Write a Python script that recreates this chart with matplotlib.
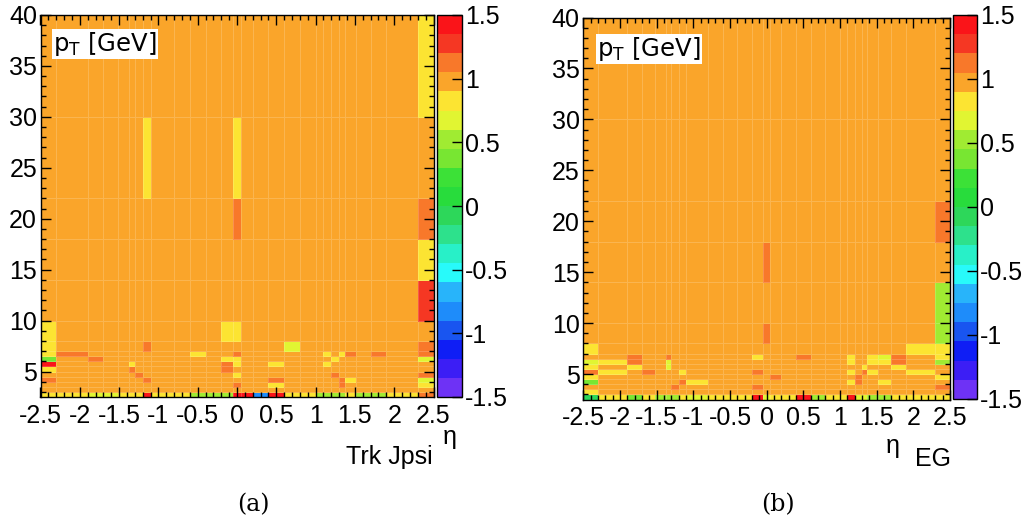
import numpy as np
import matplotlib
matplotlib.use('Agg')
import matplotlib.pyplot as plt
from matplotlib.colors import ListedColormap, BoundaryNorm
from matplotlib.ticker import MultipleLocator, FormatStrFormatter

plt.rcParams['font.family'] = ['Liberation Sans', 'DejaVu Sans']
plt.rcParams['axes.unicode_minus'] = False

# ---------------- data ----------------
eta_edges = [-2.5, -2.3, -1.9, -1.7, -1.52, -1.37, -1.3, -1.2, -1.1, -0.8, -0.6,
             -0.4, -0.2, -0.05, 0.05, 0.2, 0.4, 0.6, 0.8, 1.0, 1.1, 1.2, 1.3,
             1.37, 1.52, 1.7, 1.9, 2.3, 2.5]
pt_edges = [2.5, 3, 3.5, 4, 4.5, 5, 5.5, 6, 6.5, 7, 8, 10, 14, 18, 22, 30, 40]

base_a = 0.97
base_b = 0.97

# (pT bin low edge, eta low, eta high, value)
cells_a = [
    (30, 2.3, 2.5, 0.82),
    (22, -1.2, -1.1, 0.82), (22, -0.05, 0.05, 0.82),
    (18, -0.05, 0.05, 1.12), (18, 2.3, 2.5, 1.12),
    (14, 2.3, 2.5, 0.82),
    (10, 2.3, 2.5, 1.28),
    (8, -2.5, -2.3, 0.82), (8, -0.2, 0.05, 0.82),
    (7, -2.5, -2.3, 0.82), (7, -1.2, -1.1, 1.12), (7, 0.6, 0.8, 0.68), (7, 2.3, 2.5, 1.12),
    (6.5, -2.5, -2.3, 0.82), (6.5, -2.3, -1.9, 1.12), (6.5, -0.6, -0.4, 0.82),
    (6.5, -0.05, 0.05, 1.12), (6.5, 1.1, 1.2, 0.82), (6.5, 1.3, 1.37, 0.82),
    (6.5, 1.37, 1.52, 1.12), (6.5, 1.7, 1.9, 1.12), (6.5, 2.3, 2.5, 1.12),
    (6, -2.5, -2.3, 0.4), (6, -1.9, -1.7, 1.12), (6, -0.2, 0.05, 0.82),
    (6, 1.2, 1.3, 0.82), (6, 2.3, 2.5, 0.68),
    (5.5, -2.5, -2.3, 1.42), (5.5, -1.37, -1.3, 0.82), (5.5, -0.2, -0.05, 1.12),
    (5.5, -0.05, 0.05, 0.82), (5.5, 0.4, 0.6, 0.82), (5.5, 1.1, 1.2, 0.82),
    (5, -2.5, -2.3, 0.82), (5, -1.37, -1.3, 1.12), (5, -0.2, -0.05, 1.12),
    (4.5, -1.3, -1.2, 1.12), (4.5, -0.05, 0.05, 0.82), (4.5, 1.2, 1.3, 1.12),
    (4.5, 2.3, 2.5, 1.12),
    (4, -2.5, -2.3, 1.12), (4, -1.2, -1.1, 1.12), (4, 0.4, 0.6, 1.12),
    (4, 1.3, 1.37, 1.12), (4, 1.37, 1.52, 0.82), (4, 2.3, 2.5, 0.68),
    (3.5, -0.05, 0.05, 1.12), (3.5, 0.4, 0.6, 0.82), (3.5, 1.3, 1.37, 1.12),
    (3.5, 2.3, 2.5, 0.82),
    (2.5, -2.5, -1.9, 0.82), (2.5, -1.9, -1.52, 0.68), (2.5, -1.52, -1.2, 0.82),
    (2.5, -1.2, -1.1, 1.42), (2.5, -1.1, -0.6, 0.82), (2.5, -0.6, -0.05, 0.52),
    (2.5, -0.05, 0.2, 1.42), (2.5, 0.2, 0.4, -0.8), (2.5, 0.4, 0.6, 1.42),
    (2.5, 0.6, 1.0, 0.82), (2.5, 1.0, 1.37, 0.45), (2.5, 1.37, 1.52, 0.82),
    (2.5, 1.52, 1.9, 0.6), (2.5, 1.9, 2.3, 0.82), (2.5, 2.3, 2.5, 1.12),
]

cells_b = [
    (18, 2.3, 2.5, 1.12),
    (14, -0.05, 0.05, 1.12),
    (10, 2.3, 2.5, 0.55),
    (8, -0.05, 0.05, 1.12), (8, 2.3, 2.5, 0.55),
    (7, -2.5, -2.3, 0.82), (7, 1.9, 2.3, 0.82), (7, 2.3, 2.5, 0.82),
    (6.5, -1.9, -1.7, 1.12), (6.5, -1.37, -1.3, 1.12), (6.5, -0.2, -0.05, 0.82),
    (6.5, 0.4, 0.6, 1.12), (6.5, 1.1, 1.2, 0.82), (6.5, 1.37, 1.52, 0.82),
    (6.5, 1.52, 1.7, 0.68), (6.5, 1.7, 1.9, 1.12), (6.5, 2.3, 2.5, 0.82),
    (6, -2.5, -2.3, 0.68), (6, -2.3, -1.9, 0.82), (6, -1.9, -1.7, 1.12),
    (6, -1.37, -1.3, 0.68), (6, 1.1, 1.2, 0.82), (6, 1.37, 1.52, 0.82),
    (6, 1.52, 1.7, 0.82), (6, 1.7, 1.9, 1.12), (6, 2.3, 2.5, 0.6),
    (5.5, -2.5, -2.3, 0.82), (5.5, -1.9, -1.7, 0.82), (5.5, -1.37, -1.3, 0.68),
    (5.5, 1.3, 1.37, 0.82), (5.5, 1.7, 1.9, 0.82),
    (5, -2.5, -2.3, 1.12), (5, -2.3, -1.9, 0.82), (5, -1.7, -1.52, 1.12),
    (5, -1.2, -1.1, 0.82), (5, -0.2, -0.05, 1.12), (5, 1.1, 1.2, 0.82),
    (5, 1.3, 1.37, 1.12), (5, 1.37, 1.52, 0.82), (5, 1.9, 2.3, 0.82),
    (4.5, -2.5, -2.3, 0.82), (4.5, 0.05, 0.2, 1.12), (4.5, 1.2, 1.3, 1.12),
    (4.5, 2.3, 2.5, 0.82),
    (4, -2.5, -2.3, 0.3), (4, -1.2, -1.1, 1.12), (4, -1.1, -0.8, 0.82),
    (4, 1.1, 1.2, 0.82), (4, 1.2, 1.3, 1.12), (4, 1.52, 1.7, 0.82),
    (3.5, -1.3, -1.2, 1.12), (3.5, -0.2, -0.05, 1.12), (3.5, 2.3, 2.5, 1.12),
    (3, -2.5, -2.3, 0.82),
    (2.5, -2.5, -2.3, -0.1), (2.5, -2.3, -1.9, 0.82), (2.5, -1.9, -1.7, 0.3),
    (2.5, -1.7, -1.52, 0.82), (2.5, -1.52, -1.2, 0.45), (2.5, -1.2, -1.1, 0.82),
    (2.5, -1.1, -0.8, 0.68), (2.5, -0.8, -0.2, 0.82), (2.5, -0.2, -0.05, 1.42),
    (2.5, -0.05, 0.05, 0.68), (2.5, 0.05, 0.4, 0.82), (2.5, 0.4, 0.6, 1.42),
    (2.5, 0.6, 0.8, 0.5), (2.5, 0.8, 1.1, 0.82), (2.5, 1.1, 1.2, 1.42),
    (2.5, 1.2, 1.37, 0.68), (2.5, 1.37, 1.7, 0.5), (2.5, 1.7, 2.5, 0.82),
]

palette = ['#6E32F5', '#3C1EF5', '#0F1EF5', '#1955F0', '#1E8CFA', '#28B4FA',
           '#28FAFA', '#28F0C8', '#2DE18C', '#2DD75A', '#28DC3C', '#3CE137',
           '#78E632', '#A0EB32', '#E1F532', '#FCE432', '#FAA52A', '#F8782A',
           '#F53723', '#FA1419']
levels = np.linspace(-1.5, 1.5, 21)
cbar_ticks = [-1.5, -1, -0.5, 0, 0.5, 1, 1.5]


def build(base, cells):
    eta = np.array(eta_edges)
    z = np.full((len(pt_edges) - 1, len(eta) - 1), base)
    ec = 0.5 * (eta[1:] + eta[:-1])
    for p_lo, e_lo, e_hi, v in cells:
        i = pt_edges.index(p_lo)
        z[i, (ec > e_lo) & (ec < e_hi)] = v
    return z


cmap = ListedColormap(palette)
norm = BoundaryNorm(levels, cmap.N)

W, H = 1023, 522
fig = plt.figure(figsize=(W / 100, H / 100), dpi=100)


def px(x0, y0, x1, y1):
    return [x0 / W, 1 - y1 / H, (x1 - x0) / W, (y1 - y0) / H]


def panel(ax, cax, z):
    m = ax.pcolormesh(eta_edges, pt_edges, z, cmap=cmap, norm=norm,
                      edgecolors=(1, 1, 1, 0.18), linewidth=0.7)
    ax.set_xlim(-2.5, 2.5)
    ax.set_ylim(2.5, 40)
    ax.xaxis.set_major_locator(MultipleLocator(0.5))
    ax.xaxis.set_minor_locator(MultipleLocator(0.1))
    ax.yaxis.set_major_locator(MultipleLocator(5))
    ax.yaxis.set_minor_locator(MultipleLocator(1))
    ax.xaxis.set_major_formatter(FormatStrFormatter('%g'))
    ax.yaxis.set_major_formatter(FormatStrFormatter('%g'))
    ax.tick_params(which='both', direction='in', top=True, right=True,
                   labelsize=18, width=1, color='black')
    ax.tick_params(which='major', length=7.5)
    ax.tick_params(which='minor', length=3.8)
    ax.tick_params(axis='x', pad=5)
    ax.tick_params(axis='y', pad=2.5)
    for s in ax.spines.values():
        s.set_linewidth(1.0)
    cb = fig.colorbar(m, cax=cax, ticks=cbar_ticks)
    cb.ax.yaxis.set_major_formatter(FormatStrFormatter('%g'))
    cb.ax.tick_params(direction='in', length=7, width=1, labelsize=18, pad=2)
    cb.ax.minorticks_off()
    cb.outline.set_linewidth(1.0)


ax_a = fig.add_axes(px(40.5, 15, 433.5, 397))
cax_a = fig.add_axes(px(437, 15, 462, 397))
panel(ax_a, cax_a, build(base_a, cells_a))

ax_b = fig.add_axes(px(583.3, 17.5, 950, 399.5))
cax_b = fig.add_axes(px(953.3, 15, 977, 399))
panel(ax_b, cax_b, build(base_b, cells_b))

box = dict(facecolor='white', edgecolor='none', pad=1.0)
fig.text(53 / W, 1 - 44 / H, r'p$_{\rm T}$ [GeV]', family='DejaVu Sans',
         size=17.5, ha='left', va='center', bbox=box)
fig.text(597 / W, 1 - 49 / H, r'p$_{\rm T}$ [GeV]', family='DejaVu Sans',
         size=17.5, ha='left', va='center', bbox=box)

fig.text(450 / W, 1 - 437 / H, 'η', size=18, ha='center', va='center')
fig.text(433 / W, 1 - 457 / H, 'Trk Jpsi', size=18, ha='right', va='center')
fig.text(893 / W, 1 - 446 / H, 'η', size=18, ha='center', va='center')
fig.text(933 / W, 1 - 459 / H, 'EG', size=18, ha='center', va='center')

fig.text(253 / W, 1 - 505 / H, '(a)', family='DejaVu Serif', size=17,
         ha='center', va='center')
fig.text(778 / W, 1 - 505 / H, '(b)', family='DejaVu Serif', size=17,
         ha='center', va='center')

fig.savefig('out.png', dpi=100)
